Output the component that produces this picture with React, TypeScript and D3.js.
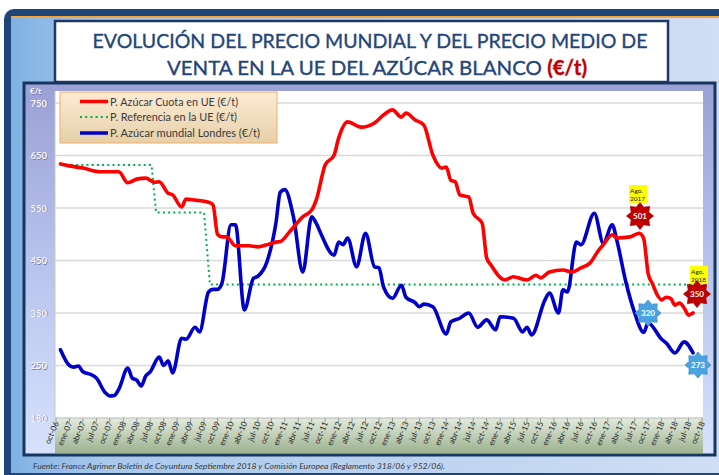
import React from "react";
import * as d3 from "d3";

// ---------- DATA ----------
const yTicks = [150, 250, 350, 450, 550, 650, 750];
const quarterNames = ["ene", "abr", "jul", "oct"];
const labelYears = ["06", "07", "08", "09", "10", "11", "12", "13", "14", "15", "16", "17", "18"];

// month index: 0 = oct-06 ... 144 = oct-18
const redMonths = [1, 2, 6, 10, 14, 16, 18, 20, 22, 23, 25, 26, 28, 29, 31, 34, 35, 36, 37, 38, 40, 43, 45, 47, 49, 50, 52, 55, 57, 58, 60, 62, 63, 65, 68, 71, 73, 75, 77, 78, 80, 82, 84, 86, 87, 88, 89, 90, 92, 93, 95, 96, 97, 100, 102, 103, 105, 107, 108, 110, 113, 115, 117, 119, 121, 122, 124, 125, 128, 130, 131, 132, 133, 134, 135, 136, 137, 138, 139, 140, 141, 142];
const redValues = [634, 632, 626, 619, 619, 598, 605, 607, 599, 600, 578, 575, 552, 567, 565, 561, 556, 500, 495, 495, 478, 478, 476, 480, 485, 486, 504, 533, 546, 565, 632, 651, 683, 714, 704, 712, 727, 737, 723, 731, 718, 708, 651, 626, 628, 603, 600, 575, 571, 540, 521, 455, 441, 413, 419, 417, 413, 422, 417, 428, 432, 428, 436, 445, 470, 480, 499, 493, 495, 502, 492, 425, 405, 385, 375, 380, 378, 365, 369, 360, 346, 350];

const blueMonths = [1, 3, 4, 5, 6, 8, 9, 11, 12, 13, 14, 16, 17, 18, 19, 20, 21, 23, 24, 25, 26, 28, 29, 31, 32, 34, 35, 36, 37, 39, 40, 42, 44, 45, 47, 49, 50, 51, 53, 55, 57, 58, 59, 62, 63, 64, 65, 67, 69, 71, 72, 73, 75, 77, 78, 80, 81, 82, 84, 87, 88, 90, 92, 94, 96, 98, 99, 102, 104, 105, 106, 109, 110, 112, 113, 114, 116, 117, 120, 122, 124, 125, 127, 129, 131, 132, 135, 136, 138, 140, 142];
const blueValues = [280, 250, 247, 249, 238, 232, 226, 198, 192, 193, 205, 245, 226, 222, 211, 230, 238, 266, 250, 259, 236, 302, 300, 323, 314, 390, 395, 395, 407, 518, 518, 356, 416, 420, 447, 520, 580, 585, 530, 428, 533, 521, 502, 460, 485, 480, 493, 438, 502, 438, 436, 400, 378, 403, 380, 370, 362, 367, 362, 310, 333, 340, 350, 323, 337, 318, 343, 340, 314, 323, 308, 375, 388, 350, 394, 390, 485, 480, 540, 483, 518, 489, 410, 350, 313, 331, 300, 293, 274, 295, 274];

const greenMonths = [1, 21.3, 22.3, 33, 34.3, 142];
const greenValues = [631.9, 631.9, 541.5, 541.5, 404.4, 404.4];

const legendLabels = [
  "P. Azúcar Cuota en UE (€/t)",
  "P. Referencia en la UE (€/t)",
  "P. Azúcar mundial Londres (€/t)",
];

const badgeMonths = [130, 142];
const badgeDates = [["Ago.", "2017"], ["Ago.", "2018"]];
const badgeRed = [501, 350];
const badgeBlue = [320, 273];

// ---------- LAYOUT ----------
const W = 719;
const H = 475;
const PL = 55, PR = 703, PT = 91, PB = 418;

function starPath(cx: number, cy: number, ro: number, ri: number, n: number) {
  const pts: string[] = [];
  for (let i = 0; i < n * 2; i++) {
    const r = i % 2 === 0 ? ro : ri;
    const a = (Math.PI * i) / n - Math.PI / 2;
    pts.push(`${(cx + r * Math.cos(a)).toFixed(2)},${(cy + r * Math.sin(a)).toFixed(2)}`);
  }
  return "M" + pts.join("L") + "Z";
}

export default function App() {
  const x = d3.scaleLinear().domain([0, 144]).range([56, 702]);
  const y = d3.scaleLinear().domain([150, 750]).range([418, 103]);

  const line = d3
    .line<[number, number]>()
    .x((d) => x(d[0]))
    .y((d) => y(d[1]))
    .curve(d3.curveMonotoneX);
  const lineLin = d3
    .line<[number, number]>()
    .x((d) => x(d[0]))
    .y((d) => y(d[1]));

  const red = redMonths.map((m, i) => [m, redValues[i]] as [number, number]);
  const blue = blueMonths.map((m, i) => [m, blueValues[i]] as [number, number]);
  const green = greenMonths.map((m, i) => [m, greenValues[i]] as [number, number]);

  // quarterly labels oct-06 .. oct-18
  const xLabels: { m: number; t: string }[] = [];
  let m = 0;
  xLabels.push({ m: 0, t: "oct-" + labelYears[0] });
  for (let yi = 1; yi < labelYears.length; yi++) {
    for (let q = 0; q < 4; q++) {
      m += 3;
      xLabels.push({ m, t: quarterNames[q] + "-" + labelYears[yi] });
    }
  }

  const font = "Lato, 'Open Sans', sans-serif";

  const redBadgePos = [
    { cx: 640, cy: 216 },
    { cx: 697, cy: 294 },
  ];
  const blueBadgePos = [
    { cx: 648, cy: 313 },
    { cx: 698, cy: 365 },
  ];
  const dateBoxPos = [
    { x: 629, y: 185 },
    { x: 690, y: 266 },
  ];

  return (
    <svg
      width={W}
      height={H}
      viewBox={`0 0 ${W} ${H}`}
      style={{ position: "absolute", left: 0, top: 0, display: "block" }}
      fontFamily={font}
    >
      <defs>
        <linearGradient id="bgGrad" x1="0" y1="0" x2="1" y2="0">
          <stop offset="0" stopColor="#7fb1e3" />
          <stop offset="0.12" stopColor="#a9c8ec" />
          <stop offset="1" stopColor="#d3e0f5" />
        </linearGradient>
        <linearGradient id="panelGrad" x1="0" y1="0" x2="0" y2="1">
          <stop offset="0" stopColor="#9ba0d5" />
          <stop offset="0.5" stopColor="#b9c4ee" />
          <stop offset="1" stopColor="#d6e2fc" />
        </linearGradient>
        <linearGradient id="bandGrad" x1="0" y1="0" x2="0" y2="1">
          <stop offset="0" stopColor="#e4ebde" />
          <stop offset="1" stopColor="#9cb290" />
        </linearGradient>
        <linearGradient id="legGrad" x1="0" y1="0" x2="0" y2="1">
          <stop offset="0" stopColor="#fdebd3" />
          <stop offset="1" stopColor="#e6d0aa" />
        </linearGradient>
      </defs>

      {/* outer frame */}
      <rect x={0} y={0} width={W} height={H} fill="#ffffff" />
      <rect x={4} y={9} width={760} height={480} rx={10} fill="#1f4478" />
      <rect x={11} y={16} width={760} height={457} fill="url(#bgGrad)" />
      <line x1={11} x2={W} y1={17} y2={17} stroke="#f2a33a" strokeWidth={2} />

      {/* title box */}
      <rect x={55} y={21} width={613} height={61} fill="#ffffff" stroke="#1f3864" strokeWidth={2.5} />
      <text x={370} y={48} textAnchor="middle" fontSize={20} fill="#23457a" stroke="#23457a" strokeWidth={0.35} textLength={555} lengthAdjust="spacingAndGlyphs">
        EVOLUCIÓN DEL PRECIO MUNDIAL Y DEL PRECIO MEDIO DE
      </text>
      <text x={377} y={75} textAnchor="middle" fontSize={20} fill="#23457a" stroke="#23457a" strokeWidth={0.35} textLength={420} lengthAdjust="spacingAndGlyphs">
        VENTA EN LA UE DEL AZÚCAR BLANCO <tspan fill="#c00000" stroke="#c00000" fontWeight="bold">(€/t)</tspan>
      </text>

      {/* chart panel */}
      <rect x={24} y={83} width={691} height={372} fill="url(#panelGrad)" stroke="#17365d" strokeWidth={3} />
      <rect x={PL} y={PT} width={PR - PL} height={PB - PT} fill="#ffffff" />
      <rect x={PL} y={PB} width={PR - PL} height={453 - PB} fill="url(#bandGrad)" />

      {/* gridlines */}
      {yTicks.filter((t) => t !== 150).map((t) => (
        <line key={t} x1={PL} x2={PR} y1={y(t)} y2={y(t)} stroke="#d9d9d9" strokeWidth={1.5} />
      ))}
      <line x1={PL} x2={PL} y1={PT} y2={PB} stroke="#c8c8c8" strokeWidth={1} />
      <line x1={PL} x2={PR} y1={PB} y2={PB} stroke="#b8b8b8" strokeWidth={1} />

      {/* y labels */}
      <text x={30.6} y={94.6} fontSize={8} fontWeight="bold" fill="#6f76a6">€/t</text>
      <text x={30} y={94} fontSize={8} fontWeight="bold" fill="#ffffff">€/t</text>
      {yTicks.map((t) => (
        <g key={t}>
          <text x={47.7} y={y(t) + 4.2} textAnchor="end" fontSize={9.5} fontWeight="bold" fill="#7c82ad">
            {t}
          </text>
          <text x={47} y={y(t) + 3.5} textAnchor="end" fontSize={9.5} fontWeight="bold" fill="#f7f7fc">
            {t}
          </text>
        </g>
      ))}

      {/* x ticks & labels */}
      {xLabels.map((l) => (
        <g key={l.t}>
          <line x1={x(l.m)} x2={x(l.m)} y1={PB} y2={PB + 4} stroke="#999999" strokeWidth={1} />
          <text
            transform={`translate(${x(l.m) + 3},${PB + 5}) rotate(-67)`}
            textAnchor="end"
            fontSize={8}
            fill="#262626"
          >
            {l.t}
          </text>
        </g>
      ))}

      {/* series */}
      <path d={lineLin(green) || ""} fill="none" stroke="#00b050" strokeWidth={2} strokeDasharray="2,3.2" />
      <path d={line(blue) || ""} fill="none" stroke="#0000c8" strokeWidth={3.6} strokeLinejoin="round" strokeLinecap="round" />
      <path d={line(red) || ""} fill="none" stroke="#ff0000" strokeWidth={3.6} strokeLinejoin="round" strokeLinecap="round" />

      {/* legend */}
      <rect x={60} y={92} width={217} height={51} fill="url(#legGrad)" stroke="#f2ad6b" strokeWidth={1} />
      <line x1={80} x2={108} y1={101.5} y2={101.5} stroke="#ff0000" strokeWidth={3.5} />
      <line x1={80} x2={108} y1={117} y2={117} stroke="#00b050" strokeWidth={2} strokeDasharray="2,3.2" />
      <line x1={80} x2={108} y1={133} y2={133} stroke="#0000c8" strokeWidth={3.5} />
      {legendLabels.map((t, i) => (
        <text
          key={t}
          x={110}
          y={105.5 + i * 15.7}
          fontSize={11}
          fill="#3a3a3a"
          textLength={[128, 127, 150][i]}
          lengthAdjust="spacingAndGlyphs"
        >
          {t}
        </text>
      ))}

      {/* annotations */}
      {badgeMonths.map((bm, i) => (
        <g key={bm}>
          <rect x={dateBoxPos[i].x} y={dateBoxPos[i].y} width={18} height={18} fill="#ffff00" />
          <text x={dateBoxPos[i].x + 1} y={dateBoxPos[i].y + 7.5} fontSize={6.5} fill="#222">
            {badgeDates[i][0]}
          </text>
          <text x={dateBoxPos[i].x + 1} y={dateBoxPos[i].y + 15.5} fontSize={6.5} fill="#222">
            {badgeDates[i][1]}
          </text>
          <path d={starPath(redBadgePos[i].cx, redBadgePos[i].cy, 13.5, 9.5, 8)} fill="#c00000" stroke="#a00000" strokeWidth={0.8} />
          <text x={redBadgePos[i].cx} y={redBadgePos[i].cy + 3} textAnchor="middle" fontSize={8} fontWeight="bold" fill="#ffffff">
            {badgeRed[i]}
          </text>
          <path d={starPath(blueBadgePos[i].cx, blueBadgePos[i].cy, 13, 9.5, 8)} fill="#4aa3df" stroke="#3b8fcc" strokeWidth={0.8} />
          <text x={blueBadgePos[i].cx} y={blueBadgePos[i].cy + 3} textAnchor="middle" fontSize={8} fontWeight="bold" fill="#ffffff">
            {badgeBlue[i]}
          </text>
        </g>
      ))}

      {/* source */}
      <text x={33} y={469} fontSize={8} fontStyle="italic" fill="#3a3a3a" textLength={412} lengthAdjust="spacingAndGlyphs">
        Fuente: France Agrimer Boletín de Coyuntura Septiembre 2018 y Comisión Europea (Reglamento 318/06 y 952/06).
      </text>
    </svg>
  );
}
